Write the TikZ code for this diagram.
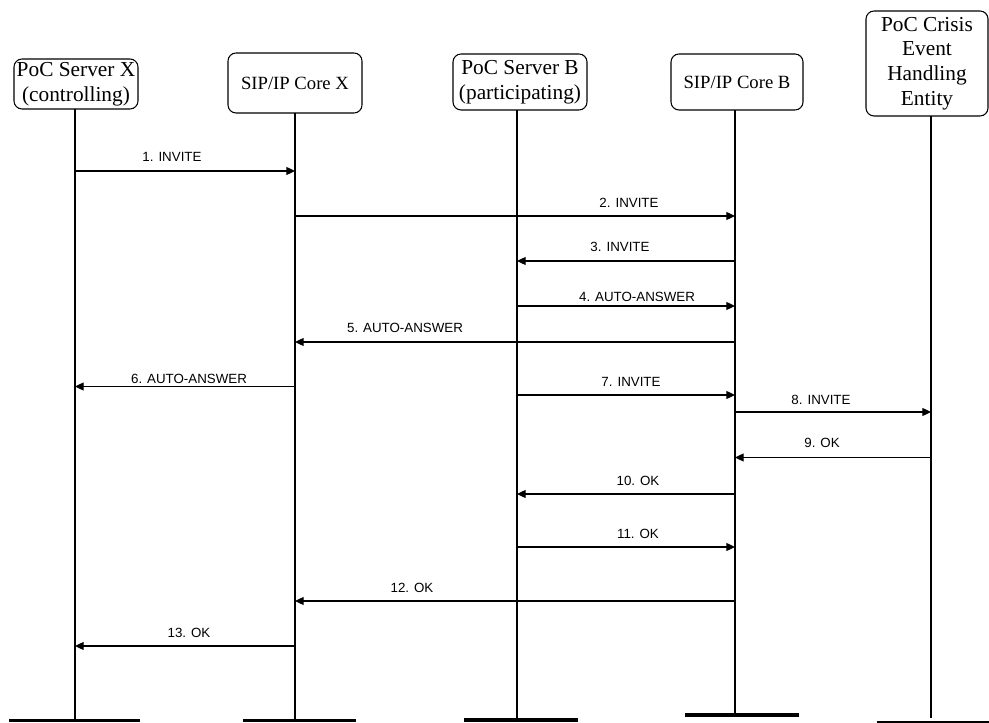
\documentclass[tikz,border=0pt]{standalone}
\usepackage{fontspec}
\setmainfont{Liberation Serif}
\newfontfamily\labfont{Liberation Sans}
\usetikzlibrary{arrows.meta}
\begin{document}
\begin{tikzpicture}[x=0.75pt,y=-0.75pt,
  hdr/.style={draw, rounded corners=6pt, line width=0.8pt, align=center, inner sep=0pt, font=\fontsize{16}{18.5}\selectfont},
  hdrs/.style={hdr, font=\fontsize{14}{17}\selectfont},
  life/.style={line width=0.8pt},
  msg/.style={line width=0.9pt, -{Triangle[length=6.5pt,width=6pt]}},
  lab/.style={font=\labfont\fontsize{10}{12}\selectfont, inner sep=0pt},
  barthin/.style={line width=1.6pt},
  barthick/.style={line width=3.5pt}]
\useasboundingbox (0,0) rectangle (989,723);

% headers
\node[hdr, minimum width=93pt, minimum height=37.5pt] (hX) at (76,84) {PoC Server X\\(controlling)};
\node[hdrs, minimum width=100.5pt, minimum height=45pt] (hCX) at (295,83) {SIP/IP Core X};
\node[hdr, minimum width=100.5pt, minimum height=42pt] (hB) at (520,82) {PoC Server B\\(participating)};
\node[hdrs, minimum width=99pt, minimum height=42pt] (hCB) at (737,82) {SIP/IP Core B};
\node[hdr, minimum width=91.5pt, minimum height=78.75pt] (hE) at (927,63.5) {PoC Crisis\\Event\\Handling\\Entity};

% lifeline tops and bottoms
\coordinate (tX) at (75,109);   \coordinate (bX) at (75,719.5);
\coordinate (tCX) at (295,113); \coordinate (bCX) at (295,719.5);
\coordinate (tB) at (517,110);  \coordinate (bB) at (517,718);
\coordinate (tCB) at (735,110); \coordinate (bCB) at (735,713);
\coordinate (tE) at (931,116);  \coordinate (bE) at (931,718);

\draw[life] (tX) -- (bX);
\draw[life] (tCX) -- (bCX);
\draw[life] (tB) -- (bB);
\draw[life] (tCB) -- (bCB);
\draw[life] (tE) -- (bE);

% bottom bars
\draw[barthin] (9,720.5) -- (140,720.5);
\draw[barthin] (243,720.5) -- (356,720.5);
\draw[barthick] (464,720) -- (578,720);
\draw[barthick] (685,715) -- (799,715);
\draw[barthin] (877,721.8) -- (989,721.8);

% message rows
\coordinate (r1) at (0,171);
\coordinate (r2) at (0,216);
\coordinate (r3) at (0,261);
\coordinate (r4) at (0,306);
\coordinate (r5) at (0,342);
\coordinate (r6) at (0,386.5);
\coordinate (r7) at (0,395);
\coordinate (r8) at (0,412);
\coordinate (r9) at (0,457.5);
\coordinate (r10) at (0,494);
\coordinate (r11) at (0,547);
\coordinate (r12) at (0,601);
\coordinate (r13) at (0,646);

\draw[msg] (tX |- r1) -- (tCX |- r1);
\draw[msg] (tCX |- r2) -- (tCB |- r2);
\draw[msg] (tCB |- r3) -- (tB |- r3);
\draw[msg] (tB |- r4) -- (tCB |- r4);
\draw[msg] (tCB |- r5) -- (tCX |- r5);
\draw[msg] (tCX |- r6) -- (tX |- r6);
\draw[msg] (tB |- r7) -- (tCB |- r7);
\draw[msg] (tCB |- r8) -- (tE |- r8);
\draw[msg] (tE |- r9) -- (tCB |- r9);
\draw[msg] (tCB |- r10) -- (tB |- r10);
\draw[msg] (tB |- r11) -- (tCB |- r11);
\draw[msg] (tCB |- r12) -- (tCX |- r12);
\draw[msg] (tCX |- r13) -- (tX |- r13);

% labels
\node[lab] (l1) at (172,157) {1. INVITE};
\node[lab] (l2) at (629,203) {2. INVITE};
\node[lab] (l3) at (620,247) {3. INVITE};
\node[lab] (l4) at (637,297) {4. AUTO-ANSWER};
\node[lab] (l5) at (405,328) {5. AUTO-ANSWER};
\node[lab] (l6) at (189,379) {6. AUTO-ANSWER};
\node[lab] (l7) at (631,382) {7. INVITE};
\node[lab] (l8) at (821,400) {8. INVITE};
\node[lab] (l9) at (822,443) {9. OK};
\node[lab] (l10) at (638,481) {10. OK};
\node[lab] (l11) at (638,534) {11. OK};
\node[lab] (l12) at (412,588) {12. OK};
\node[lab] (l13) at (189,633) {13. OK};
\end{tikzpicture}
\end{document}
